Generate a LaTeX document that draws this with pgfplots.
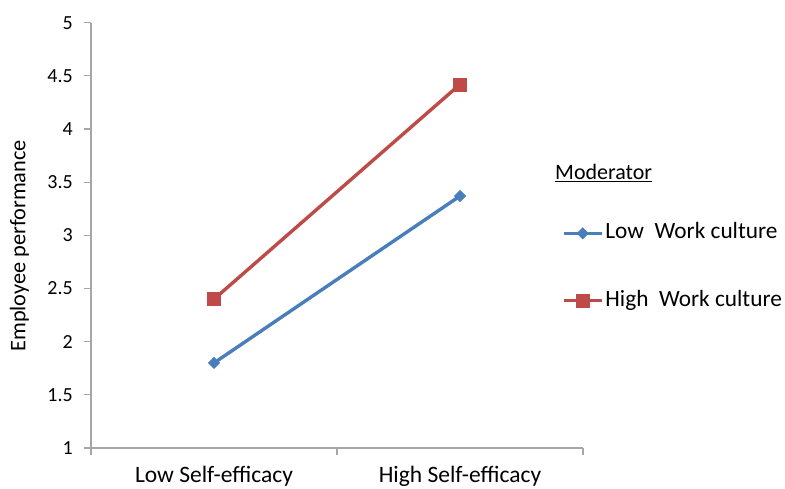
\documentclass[border=0pt]{standalone}
\usepackage{fontspec}
\setmainfont{Carlito}
\usepackage{pgfplots}
\pgfplotsset{compat=1.18}
\definecolor{sblue}{HTML}{4A7EBB}
\definecolor{sred}{HTML}{BE4B48}
\definecolor{axgray}{HTML}{A6A6A6}
\begin{document}
\begin{tikzpicture}
\begin{axis}[
  at={(91pt,40pt)}, anchor=south west,
  scale only axis, width=492pt, height=425.3pt,
  xmin=-0.5, xmax=1.5, ymin=1, ymax=5,
  axis lines*=left,
  axis line style={axgray, line width=1.2pt},
  tick align=outside, major tick length=7pt,
  tick style={axgray, line width=1.2pt},
  ytick={1,1.5,2,2.5,3,3.5,4,4.5,5},
  xtick={-0.5,0.5,1.5}, xticklabels={,,},
  extra x ticks={0,1},
  extra x tick labels={Low Self-efficacy, High Self-efficacy},
  extra x tick style={major tick length=0pt},
  /pgf/number format/assume math mode=true,
  yticklabel style={font=\fontsize{20}{24}\selectfont, anchor=east, inner sep=0pt, xshift=-11pt},
  xticklabel style={font=\fontsize{23.5}{28}\selectfont, anchor=base, inner sep=0pt, yshift=-34pt},
  ylabel={Employee performance},
  every axis y label/.style={at={(rel axis cs:-0.1453,0.475)}, rotate=90, anchor=center, font=\fontsize{22.3}{26}\selectfont},
  legend style={draw=none, fill=none, at={(rel axis cs:0.957,0.4256)}, anchor=west,
    inner xsep=0pt, inner ysep=0pt, row sep=42.3pt,
    font=\fontsize{23.3}{28}\selectfont,
    nodes={inner xsep=2pt, text height=16pt, text depth=5pt}},
  legend cell align=left,
  legend image code/.code={\draw[mark repeat=2,mark phase=2,#1] plot coordinates {(0pt,0pt) (19pt,0pt) (38pt,0pt)};},
  clip=false,
]
\addplot[sblue, line width=3.4pt, mark=square*, mark size=4pt, mark options={rotate=45, line width=0.5pt}] coordinates {(0,1.80) (1,3.37)};
\addlegendentry{Low~~Work culture}
\addplot[sred, line width=3.4pt, mark=square*, mark size=6.5pt, mark options={line width=0.5pt}] coordinates {(0,2.40) (1,4.42)};
\addlegendentry{High~~Work culture}
\end{axis}
\node[anchor=base west, inner sep=0pt, font=\fontsize{22}{26}\selectfont] at (555pt,308pt) {\underline{Moderator}};
\pgfresetboundingbox
\path (0pt,0pt) rectangle (785pt,488pt);
\end{tikzpicture}
\end{document}
